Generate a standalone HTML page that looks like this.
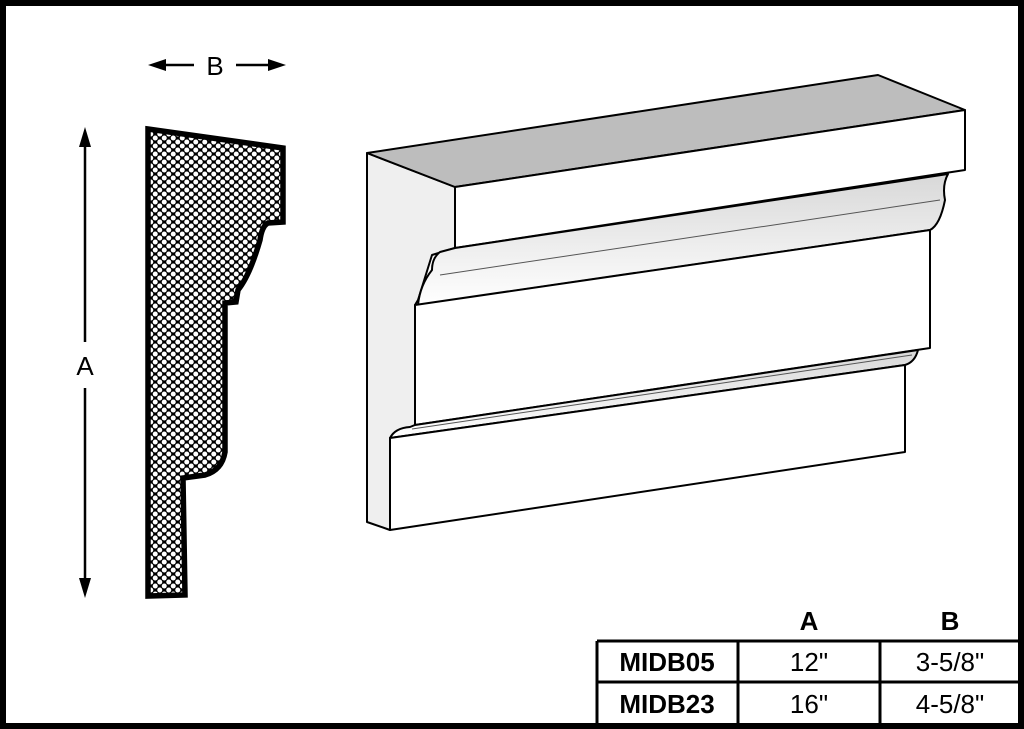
<!DOCTYPE html>
<html><head><style>
html,body{margin:0;padding:0;background:#fff;}
svg{display:block;font-family:"Liberation Sans",Arial,sans-serif;}
</style></head><body>
<svg width="1024" height="729" viewBox="0 0 1024 729" xmlns="http://www.w3.org/2000/svg">
<defs>
<pattern id="hex" width="9" height="8" patternUnits="userSpaceOnUse">
<rect width="9" height="8" fill="#000"/>
<circle cx="2.25" cy="2" r="2.5" fill="#fff"/>
<circle cx="6.75" cy="6" r="2.5" fill="#fff"/>
<circle cx="6.75" cy="-2" r="2.5" fill="#fff"/>
<circle cx="-2.25" cy="6" r="2.5" fill="#fff"/>
<circle cx="11.25" cy="2" r="2.5" fill="#fff"/>
<circle cx="2.25" cy="10" r="2.5" fill="#fff"/>
</pattern>
<linearGradient id="cove" x1="0" y1="0" x2="0" y2="1">
<stop offset="0" stop-color="#d8d8d8"/><stop offset="1" stop-color="#fff"/>
</linearGradient>
</defs>
<rect x="3" y="3" width="1018" height="723" fill="#fff" stroke="#000" stroke-width="6"/>

<g stroke="#000" stroke-width="2.5" fill="#000">
<line x1="160" y1="65" x2="194" y2="65"/><polygon points="148,65 166,59 166,71" stroke="none"/>
<line x1="236" y1="65" x2="272" y2="65"/><polygon points="286,65 268,59 268,71" stroke="none"/>
<line x1="85" y1="142" x2="85" y2="342"/><polygon points="85,127 79,147 91,147" stroke="none"/>
<line x1="85" y1="388" x2="85" y2="582"/><polygon points="85,598 79,578 91,578" stroke="none"/>
</g>
<text x="215" y="75" font-size="26" text-anchor="middle">B</text>
<text x="85" y="375" font-size="26" text-anchor="middle">A</text>

<path d="M148,129 L283,148 L283,222 L268,223 Q262,226 260,240 Q250,275 238,290 L236,302 L225,303 L225,452 Q222,470 205,475 L183,478 L185,595 L148,596 Z" fill="url(#hex)" stroke="#000" stroke-width="5.5" stroke-linejoin="miter"/>

<g stroke="#000" stroke-width="2" stroke-linejoin="round">
<polygon points="367,153 455,187 455,248 432,255 418,300 415,305 415,425 400,432 390,438 390,530 367,522" fill="#efefef"/>
<polygon points="367,153 878,75 965,110 455,187" fill="#bdbdbd"/>
<polygon points="455,187 965,110 965,170 455,248" fill="#fff"/>
<path d="M455,248 L948,174 Q942,185 945,200 Q940,225 930,230 L418,305 Q420,285 432,270 Q432,258 440,252 Z" fill="url(#cove)"/>
<polygon points="415,305 930,230 930,348 415,425" fill="#fff"/>
<path d="M415,425 L918,350 Q915,362 905,365 L390,438 Q395,428 410,427 Z" fill="url(#cove)"/>
<polygon points="390,438 905,365 905,452 390,530" fill="#fff"/>
</g>
<g stroke="#555" stroke-width="1" fill="none">
<line x1="440" y1="275" x2="940" y2="200"/>
<line x1="412" y1="429" x2="912" y2="355"/>
</g>

<g stroke="#000" stroke-width="3" fill="none">
<line x1="597" y1="641" x2="1018" y2="641"/>
<line x1="597" y1="682" x2="1018" y2="682"/>
<line x1="597" y1="641" x2="597" y2="724"/>
<line x1="738" y1="641" x2="738" y2="724"/>
<line x1="880" y1="641" x2="880" y2="724"/>
</g>
<g font-size="26" text-anchor="middle">
<text x="809" y="630" font-weight="bold">A</text>
<text x="950" y="630" font-weight="bold">B</text>
<text x="667" y="671" font-weight="bold">MIDB05</text>
<text x="809" y="671">12"</text>
<text x="950" y="671">3-5/8"</text>
<text x="667" y="713" font-weight="bold">MIDB23</text>
<text x="809" y="713">16"</text>
<text x="950" y="713">4-5/8"</text>
</g>
</svg>
</body></html>
